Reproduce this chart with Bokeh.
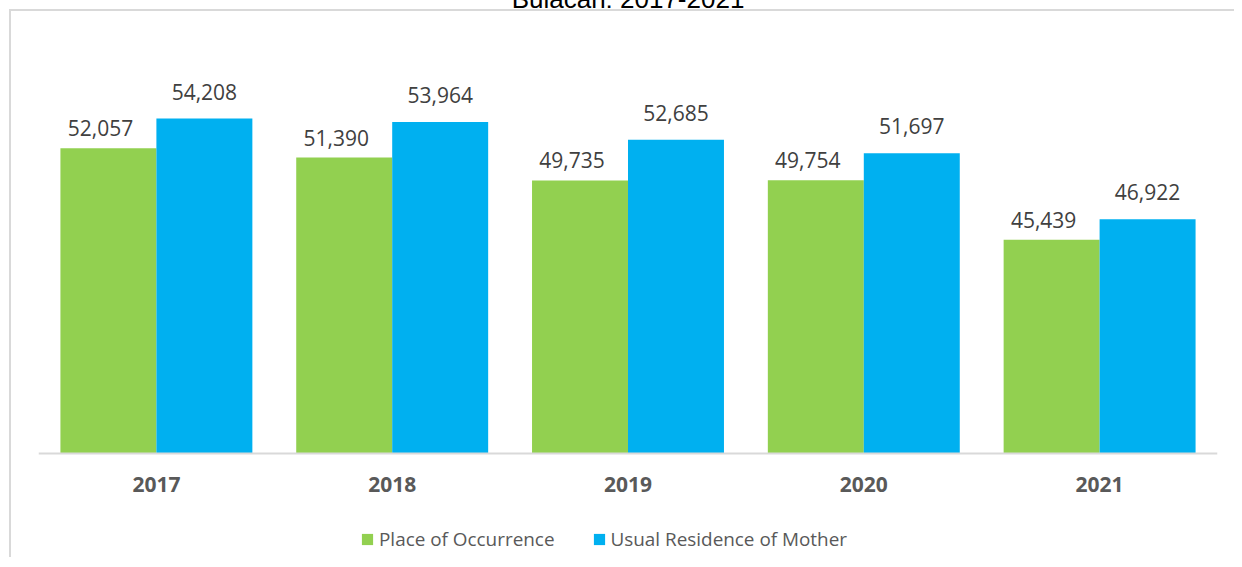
from bokeh.plotting import figure
from bokeh.models import ColumnDataSource, Legend, LegendItem, Range1d
from bokeh.layouts import column
from bokeh.transform import dodge
from bokeh.embed import file_html
from bokeh.resources import INLINE
from bokeh.core.properties import value

years = ["2017", "2018", "2019", "2020", "2021"]
place_of_occurrence = [52057, 51390, 49735, 49754, 45439]
usual_residence = [54208, 53964, 52685, 51697, 46922]
series_names = ["Place of Occurrence", "Usual Residence of Mother"]
title_text = "Bulacan: 2017-2021"

AXIS_BASE = 30000      # value at which the category axis sits
GREEN = "#92d050"
BLUE = "#00b0f0"
FONT = "Open Sans"

src = ColumnDataSource(dict(
    year=years,
    poc=place_of_occurrence,
    urm=usual_residence,
    poc_lbl=[f"{v:,}" for v in place_of_occurrence],
    urm_lbl=[f"{v:,}" for v in usual_residence],
))

p = figure(x_range=years, y_range=Range1d(22464, 60000), width=1234, height=601,
           output_backend="svg", toolbar_location=None,
           min_border_left=38, min_border_right=17, min_border_top=0,
           min_border_bottom=0)
p.title.text = title_text
p.title.align = "center"
p.title.text_font = "Liberation Sans"
p.title.text_font_size = "26px"
p.title.text_font_style = "normal"
p.title.text_color = "#000000"
p.title.standoff = 50
p.border_fill_color = None
p.background_fill_color = None

W = 0.407
off = W / 2
r1 = p.vbar(x=dodge("year", -off, range=p.x_range), top="poc", bottom=AXIS_BASE,
            width=W, source=src, fill_color=GREEN, line_color=None)
r2 = p.vbar(x=dodge("year", off, range=p.x_range), top="urm", bottom=AXIS_BASE,
            width=W, source=src, fill_color=BLUE, line_color=None)

p.text(x=dodge("year", -off, range=p.x_range), y="poc", text="poc_lbl", source=src,
       text_align="center", text_baseline="bottom", y_offset=-12, x_offset=-8,
       text_font=value(FONT), text_font_size="21px", text_color="#404040")
p.text(x=dodge("year", off, range=p.x_range), y="urm", text="urm_lbl", source=src,
       text_align="center", text_baseline="bottom", y_offset=-19,
       text_font=value(FONT), text_font_size="21px", text_color="#404040")

p.yaxis.visible = False
p.xgrid.grid_line_color = None
p.ygrid.grid_line_color = None
p.outline_line_color = None
p.x_range.range_padding = 0

ax = p.xaxis[0]
ax.fixed_location = AXIS_BASE
ax.axis_line_color = "#d9d9d9"
ax.axis_line_width = 2
ax.major_tick_line_color = None
ax.minor_tick_line_color = None
ax.major_label_text_font = FONT
ax.major_label_text_font_size = "21px"
ax.major_label_text_font_style = "bold"
ax.major_label_text_color = "#595959"
ax.major_label_standoff = 18

legend = Legend(items=[LegendItem(label=series_names[0], renderers=[r1]),
                       LegendItem(label=series_names[1], renderers=[r2])],
                orientation="horizontal", location=(322, 5))
legend.label_text_font = FONT
legend.label_text_font_size = "18.9px"
legend.label_text_color = "#595959"
legend.glyph_width = 14
legend.glyph_height = 14
legend.label_standoff = 5
legend.spacing = 37
legend.padding = 0
legend.margin = 0
legend.border_line_color = None
legend.background_fill_alpha = 0
p.add_layout(legend, "center")

layout = column(p, styles={
    "margin-top": "-44px",
    "background-image": "linear-gradient(#d9d9d9,#d9d9d9), linear-gradient(#d9d9d9,#d9d9d9)",
    "background-size": "100% 2px, 2px 100%",
    "background-position": "9px 53px, 9px 53px",
    "background-repeat": "no-repeat",
})

open("out.html", "w").write(file_html(layout, INLINE))
